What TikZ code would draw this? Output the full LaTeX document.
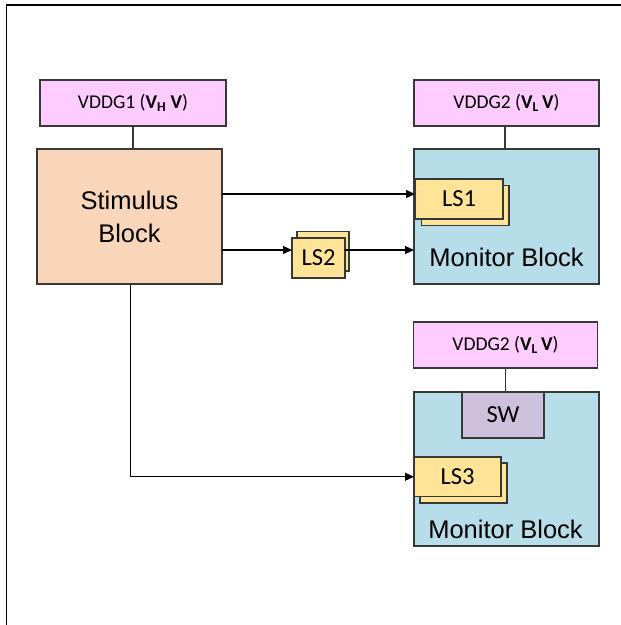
\documentclass[tikz,border=0pt]{standalone}
\usepackage{fontspec}
\setmainfont{Liberation Sans}
\newfontfamily\carlito{Carlito}
\usetikzlibrary{arrows.meta}
\definecolor{pinkc}{HTML}{FFCCFF}
\definecolor{peachc}{HTML}{F9D6BA}
\definecolor{bluec}{HTML}{B7DDE8}
\definecolor{yellowc}{HTML}{FFE497}
\definecolor{purplec}{HTML}{CCC0DA}
\definecolor{edgec}{HTML}{383838}
\begin{document}
\begin{tikzpicture}[x=1pt,y=-1pt,
  box/.style={draw=edgec, line width=1.3pt, inner sep=0pt, outer sep=0pt, anchor=north west},
  vddg/.style={box, fill=pinkc, font=\carlito\fontsize{19.5}{22}\selectfont},
  stimbox/.style={box, fill=peachc, align=center, font=\fontsize{25.5}{33}\selectfont},
  monbox/.style={box, fill=bluec},
  lsbox/.style={box, fill=yellowc, font=\carlito\fontsize{24.5}{28}\selectfont},
  swbox/.style={box, fill=purplec, font=\carlito\fontsize{24.5}{28}\selectfont},
  montext/.style={inner sep=0pt, font=\fontsize{25.5}{30}\selectfont},
  wire/.style={draw=edgec, line width=1.2pt},
  arr/.style={draw=black, line width=1.2pt, -{Triangle[length=9pt,width=8pt]}}]
\useasboundingbox (0,0) rectangle (621,625);
\draw[line width=1.7pt] (6.5,625) -- (6.5,5) -- (621,5);

% supplies
\node[vddg, minimum width=186pt, minimum height=46pt] (vddg1) at (40,80)
  {VDDG1 (\textbf{V}\textsubscript{\textbf{H}} \textbf{V})};
\node[vddg, minimum width=185pt, minimum height=46pt] (vddg2) at (414,80)
  {VDDG2 (\textbf{V}\textsubscript{\textbf{L}}\,\textbf{V})};
\node[vddg, minimum width=184pt, minimum height=46pt] (vddg3) at (413.5,322)
  {VDDG2 (\textbf{V}\textsubscript{\textbf{L}}\,\textbf{V})};

% stimulus
\node[stimbox, minimum width=185pt, minimum height=135pt] (stim) at (37,149) {Stimulus\\Block};

% monitor 1
\node[monbox, minimum width=185pt, minimum height=135pt] (mon1) at (414,149) {};
\node[montext] (mon1t) at (506.5,257) {Monitor Block};
\node[lsbox, minimum width=87.5pt, minimum height=40pt] (ls1b) at (421.5,185.5) {};
\node[lsbox, minimum width=88pt, minimum height=40pt] (ls1) at (415,179) {LS1};

% LS2
\node[lsbox, minimum width=52pt, minimum height=39.5pt] (ls2b) at (297,231.5) {};
\node[lsbox, minimum width=53pt, minimum height=40pt] (ls2) at (292,238) {LS2};

% monitor 2
\node[monbox, minimum width=185pt, minimum height=154pt] (mon2) at (414,392) {};
\node[montext] (mon2t) at (505.5,529.5) {Monitor Block};
\node[swbox, minimum width=82pt, minimum height=46pt] (sw) at (462,392) {SW};
\node[lsbox, minimum width=87pt, minimum height=40pt] (ls3b) at (420,463) {};
\node[lsbox, minimum width=87pt, minimum height=39.5pt] (ls3) at (414,457) {LS3};

% supply wires
\draw[wire] (vddg1.south) -- (vddg1.south |- stim.north);
\draw[wire] ([xshift=-1.5pt]vddg2.south) -- ([xshift=-1.5pt]vddg2.south |- mon1.north);
\draw[wire] (vddg3.south) -- (vddg3.south |- sw.north);

% signal arrows
\coordinate (ls1in) at ([yshift=5pt]ls1.west);
\coordinate (ls2in) at ([yshift=8pt]ls2.west);
\draw[arr] (stim.east |- ls1in) -- (ls1in);
\draw[arr] (stim.east |- ls2in) -- (ls2in);
\draw[arr] (ls2.east |- ls2in) -- (mon1.west |- ls2in);
\draw[arr] ([xshift=1pt]stim.south) |- (ls3.west);
\end{tikzpicture}
\end{document}
